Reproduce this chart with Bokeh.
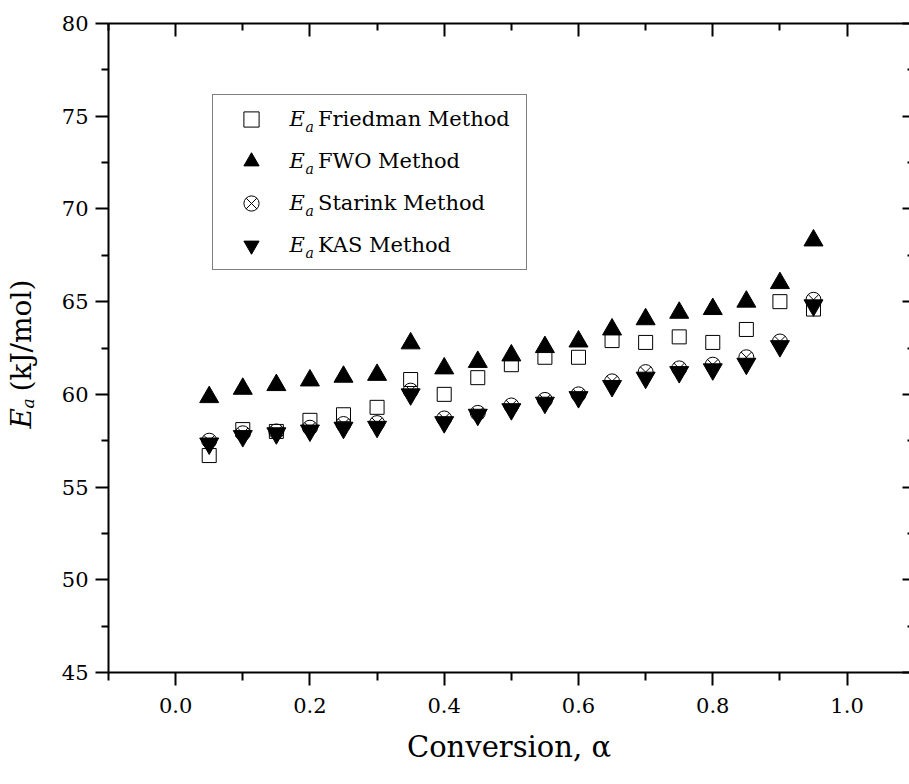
import math
from bokeh.plotting import figure
from bokeh.layouts import row
from bokeh.models import (Range1d, LinearAxis, FixedTicker, Legend, LegendItem, Label,
                          ColumnDataSource, PrintfTickFormatter, CustomJSTickFormatter)
from bokeh.embed import file_html
from bokeh.resources import INLINE

# ---------------- data ----------------
alpha = [0.05, 0.10, 0.15, 0.20, 0.25, 0.30, 0.35, 0.40, 0.45, 0.50,
         0.55, 0.60, 0.65, 0.70, 0.75, 0.80, 0.85, 0.90, 0.95]
friedman = [56.7, 58.1, 58.0, 58.6, 58.9, 59.3, 60.8, 60.0, 60.9, 61.6,
            62.0, 62.0, 62.9, 62.8, 63.1, 62.8, 63.5, 65.0, 64.6]
fwo = [59.85, 60.3, 60.5, 60.75, 60.95, 61.05, 62.75, 61.4, 61.75, 62.1,
       62.55, 62.85, 63.5, 64.05, 64.4, 64.6, 65.0, 66.0, 68.3]
starink = [57.5, 57.9, 58.0, 58.2, 58.4, 58.45, 60.2, 58.7, 59.0, 59.4,
           59.7, 60.0, 60.7, 61.2, 61.4, 61.6, 62.0, 62.85, 65.1]
kas = [57.35, 57.75, 57.9, 58.05, 58.2, 58.25, 60.0, 58.5, 58.9, 59.2,
       59.55, 59.85, 60.45, 60.9, 61.2, 61.35, 61.65, 62.6, 64.8]

x_ticks = [0.0, 0.2, 0.4, 0.6, 0.8, 1.0]
x_minor = [-0.1, 0.1, 0.3, 0.5, 0.7, 0.9]
y_ticks = [45, 50, 55, 60, 65, 70, 75, 80]
y_minor = [47.5, 52.5, 57.5, 62.5, 67.5, 72.5, 77.5]

method_names = ["Friedman Method", "FWO Method", "Starink Method", "KAS Method"]

FONT = "DejaVu Serif"

src = ColumnDataSource(dict(alpha=alpha, friedman=friedman, fwo=fwo,
                            starink=starink, kas=kas))

# ---------------- left strip holding the y-axis title ----------------
LEFT_W = 55
lf = figure(width=LEFT_W, height=784, output_backend="svg", toolbar_location=None,
            x_axis_location=None, y_axis_location=None,
            x_range=Range1d(0, 1), y_range=Range1d(0, 1),
            min_border=0, min_border_left=0, min_border_right=0,
            min_border_top=0, min_border_bottom=0)
lf.outline_line_color = None
lf.xgrid.visible = False
lf.ygrid.visible = False
lf.border_fill_color = "white"
lf.background_fill_color = "white"

lf.add_layout(Label(x=21, y=244, x_units="screen", y_units="screen", text="E",
                    angle=math.pi / 2, text_font=FONT, text_font_style="italic",
                    text_font_size="28px", text_baseline="alphabetic", text_align="left",
                    text_color="black"))
lf.add_layout(Label(x=27, y=264, x_units="screen", y_units="screen", text="a",
                    angle=math.pi / 2, text_font=FONT, text_font_style="italic",
                    text_font_size="17px", text_baseline="alphabetic", text_align="left",
                    text_color="black"))
lf.add_layout(Label(x=21, y=281, x_units="screen", y_units="screen", text="(kJ/mol)",
                    angle=math.pi / 2, text_font=FONT, text_font_style="normal",
                    text_font_size="28px", text_baseline="alphabetic", text_align="left",
                    text_color="black"))

# ---------------- main plot ----------------
p = figure(width=909 - LEFT_W, height=784, output_backend="svg", toolbar_location=None,
           x_range=Range1d(-0.1, 1.093), y_range=Range1d(45, 80),
           min_border_left=108 - LEFT_W, min_border_right=0, min_border_top=23,
           min_border_bottom=112)
p.xgrid.visible = False
p.ygrid.visible = False
p.outline_line_color = None
p.background_fill_color = "white"
p.border_fill_color = "white"

r1 = p.scatter("alpha", "friedman", source=src, marker="square", size=14,
               fill_color="white", line_color="black", line_width=1)
r2 = p.scatter("alpha", "fwo", source=src, marker="triangle", size=19,
               fill_color="black", line_color="black", line_width=1)
r3 = p.scatter("alpha", "starink", source=src, marker="circle_x", size=15,
               fill_color=None, line_color="black", line_width=1)
r4 = p.scatter("alpha", "kas", source=src, marker="inverted_triangle", size=19,
               fill_color="black", line_color="black", line_width=1)


def style_axis(ax):
    ax.axis_line_width = 2
    ax.axis_line_color = "black"
    ax.major_tick_line_width = 2
    ax.minor_tick_line_width = 2
    ax.major_tick_line_color = "black"
    ax.minor_tick_line_color = "black"
    ax.major_label_text_font = FONT
    ax.major_label_text_font_size = "21px"
    ax.major_label_text_color = "black"


# bottom axis
xax = p.xaxis[0]
style_axis(xax)
xax.ticker = FixedTicker(ticks=x_ticks, minor_ticks=x_minor)
xax.formatter = PrintfTickFormatter(format="%.1f")
xax.major_tick_out = 13
xax.major_tick_in = 0
xax.minor_tick_out = 8
xax.minor_tick_in = 0
xax.major_label_standoff = 12
xax.axis_label = "Conversion, α"
xax.axis_label_text_font = FONT
xax.axis_label_text_font_size = "29px"
xax.axis_label_text_font_style = "normal"
xax.axis_label_text_color = "black"
xax.axis_label_standoff = 14

# left axis
yax = p.yaxis[0]
style_axis(yax)
yax.ticker = FixedTicker(ticks=y_ticks, minor_ticks=y_minor)
yax.major_tick_out = 13
yax.major_tick_in = 0
yax.minor_tick_out = 7
yax.minor_tick_in = 0
yax.major_label_standoff = 7

blank = CustomJSTickFormatter(code="return ''")

# top axis (inward ticks, no labels)
top = LinearAxis(ticker=FixedTicker(ticks=x_ticks, minor_ticks=x_minor), formatter=blank)
style_axis(top)
top.major_label_text_font_size = "1px"
top.major_label_standoff = 0
top.major_tick_in = 13
top.major_tick_out = 0
top.minor_tick_in = 7
top.minor_tick_out = 0
p.add_layout(top, "above")

# right axis (inward ticks, line just outside the picture)
right = LinearAxis(ticker=FixedTicker(ticks=y_ticks, minor_ticks=y_minor), formatter=blank)
style_axis(right)
right.axis_line_color = None
right.major_label_text_font_size = "1px"
right.major_label_standoff = 0
right.major_tick_in = 7
right.major_tick_out = 0
right.minor_tick_in = 2
right.minor_tick_out = 0
p.add_layout(right, "right")

# legend
legend = Legend(items=[LegendItem(label=method_names[0], renderers=[r1]),
                       LegendItem(label=method_names[1], renderers=[r2]),
                       LegendItem(label=method_names[2], renderers=[r3]),
                       LegendItem(label=method_names[3], renderers=[r4])],
                location=(104, 402), orientation="vertical",
                padding=5, spacing=4, margin=0,
                glyph_height=38, glyph_width=66, label_standoff=34,
                label_width=203, label_height=38,
                label_text_font=FONT, label_text_font_size="21px",
                label_text_color="black",
                border_line_color="black", border_line_width=1,
                background_fill_alpha=0)
p.add_layout(legend, "center")

# "E_a" prefixes of legend labels
row_y = [554, 512, 470, 428]
for yy in row_y:
    p.add_layout(Label(x=181, y=yy, x_units="screen", y_units="screen", text="E",
                       text_font=FONT, text_font_style="italic", text_font_size="21px",
                       text_baseline="middle", text_align="left", text_color="black"))
    p.add_layout(Label(x=197, y=yy - 8, x_units="screen", y_units="screen", text="a",
                       text_font=FONT, text_font_style="italic", text_font_size="14px",
                       text_baseline="middle", text_align="left", text_color="black"))

layout = row(lf, p, spacing=0)
open("out.html", "w").write(file_html(layout, INLINE))
